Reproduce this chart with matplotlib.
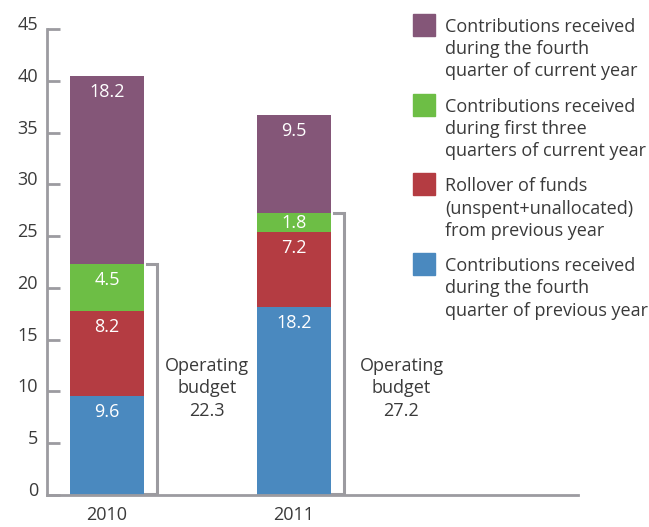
import matplotlib
matplotlib.use("Agg")
import matplotlib.pyplot as plt
import matplotlib.transforms as mtransforms
from matplotlib.patches import Rectangle

plt.rcParams['font.family'] = ['Open Sans', 'DejaVu Sans']

years = ["2010", "2011"]
# stacking order bottom -> top
series_labels = [
    "Contributions received\nduring the fourth\nquarter of previous year",
    "Rollover of funds\n(unspent+unallocated)\nfrom previous year",
    "Contributions received\nduring first three\nquarters of current year",
    "Contributions received\nduring the fourth\nquarter of current year",
]
prev_q4 = [9.6, 18.2]
rollover = [8.2, 7.2]
first_three = [4.5, 1.8]
curr_q4 = [18.2, 9.5]
operating_budget = [22.3, 27.2]
yticks = [0, 5, 10, 15, 20, 25, 30, 35, 40, 45]

colors = ["#4a89bf", "#b43c42", "#6dbe45", "#845678"]
gray = "#9c9ba0"
txt = "#3a3a3a"
dpi = 100
W, H = 649, 527
px_per_unit_y = 466 / 45.0

fig = plt.figure(figsize=(W / dpi, H / dpi), dpi=dpi)
ax = fig.add_axes([47 / W, 32 / H, 531 / W, 466 / H])

x = [0, 1]
width = 0.396
series = [prev_q4, rollover, first_three, curr_q4]
bottoms = [0.0, 0.0]
for vals, col in zip(series, colors):
    ax.bar(x, vals, width, bottom=bottoms, color=col, zorder=2)
    for i, v in enumerate(vals):
        top = bottoms[i] + v
        off = min(16 / px_per_unit_y, v / 2)
        ax.text(x[i], top - off, f"{v}", color="white", ha="center", va="center",
                fontsize=13, zorder=3)
    bottoms = [b + v for b, v in zip(bottoms, vals)]

# brackets for operating budget
for i, b in enumerate(operating_budget):
    bx = x[i] + 0.265
    ax.plot([bx - 0.05, bx, bx, bx - 0.065], [b, b, 0.1, 0.1], color=gray, lw=2.2,
            solid_joinstyle="miter", zorder=1)
    ax.text(x[i] + 0.535 + 0.04 * i, 10.3, f"Operating\nbudget\n{b}", ha="center",
            va="center", fontsize=13, color=txt, linespacing=1.33)

ax.set_xlim(-0.321, 2.519)
ax.set_ylim(0, 45)
ax.set_yticks(yticks)
ax.set_xticks(x)
ax.set_xticklabels(years)
for s in ["top", "right"]:
    ax.spines[s].set_visible(False)
for s in ["left", "bottom"]:
    ax.spines[s].set_color(gray)
    ax.spines[s].set_linewidth(2)
ax.tick_params(axis="y", direction="in", length=9.5, width=2, color=gray,
               labelsize=13, labelcolor=txt, pad=6.5)
ax.tick_params(axis="x", length=0, labelsize=13, labelcolor=txt, pad=8)
offset = mtransforms.ScaledTranslation(0, 6 / dpi, fig.dpi_scale_trans)
for lab in ax.get_yticklabels():
    lab.set_transform(lab.get_transform() + offset)

# legend (top item = top of stack)
for k, (lab, col) in enumerate(zip(series_labels[::-1], colors[::-1])):
    top_px = 14 + 79.7 * k
    fig.patches.append(Rectangle((413 / W, 1 - (top_px + 22) / H), 22 / W, 22 / H,
                                 transform=fig.transFigure, color=col))
    fig.text(445 / W, 1 - (top_px + 4) / H, lab, ha="left", va="top",
             fontsize=13, color=txt, linespacing=1.3)

fig.savefig("out.png", dpi=dpi)
